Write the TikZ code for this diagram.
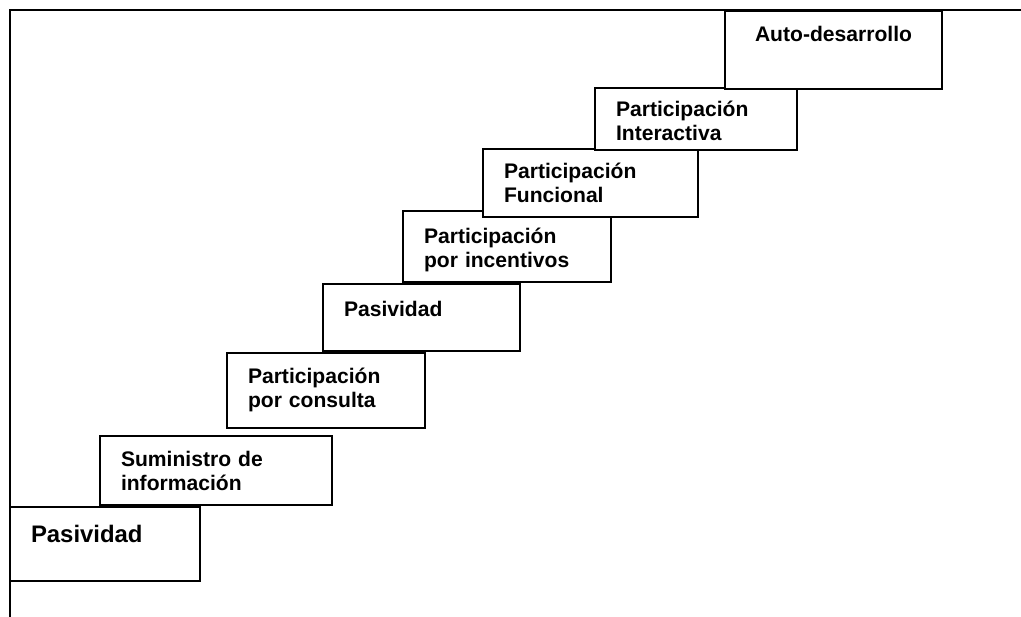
\documentclass[tikz,border=0pt]{standalone}
\usepackage{fontspec}
\setmainfont{Liberation Sans}

\tikzset{
  stepbox/.style={draw, fill=white, line width=1.4pt, anchor=north west, outer sep=0pt,
    align=left, inner xsep=0.525cm, inner ysep=0pt, font=\bfseries\fontsize{15}{16.6}\selectfont},
}

\begin{document}
\begin{tikzpicture}
  \useasboundingbox (0,0) rectangle (25.525,15.425);

  % Frame
  \coordinate (framefoot) at (0.25,0);
  \coordinate (corner) at (0.25,15.175);
  \coordinate (frameend) at (25.525,15.175);
  \draw[line width=1.1pt] (framefoot) -- (corner) -- (frameend);

  % Steps, lowest first
  \node[stepbox, text width=3.7cm, text height=0.9cm, text depth=0.95cm, font=\bfseries\fontsize{17}{18.5}\selectfont] (pasivbase) at (0.25,2.75) {Pasividad};
  \node[stepbox, text width=4.75cm, text height=0.775cm, text depth=0.95cm] (suministro) at (2.5,4.525) {Suministro de\\información};
  \node[stepbox, text width=3.9cm, text height=0.775cm, text depth=1.1cm] (consulta) at (5.675,6.6) {Participación\\por consulta};
  \node[stepbox, text width=3.875cm, text height=0.825cm, text depth=0.85cm] (pasivtop) at (8.075,8.325) {Pasividad};
  \node[stepbox, text width=4.15cm, text height=0.825cm, text depth=0.95cm] (incentivos) at (10.075,10.15) {Participación\\por incentivos};
  \node[stepbox, text width=4.325cm, text height=0.75cm, text depth=0.95cm] (funcional) at (12.075,11.7) {Participación\\Funcional};
  \node[stepbox, text width=4.0cm, text height=0.725cm, text depth=0.825cm] (interactiva) at (14.875,13.225) {Participación\\Interactiva};
  \node[stepbox, text width=4.375cm, text height=0.775cm, text depth=1.175cm, align=center] (autodes) at (18.125,15.15) {Auto-desarrollo};
\end{tikzpicture}
\end{document}
